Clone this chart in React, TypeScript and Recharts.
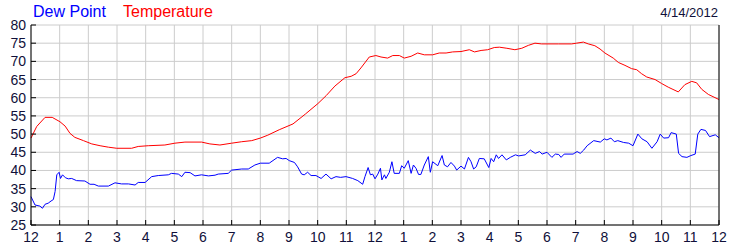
import { CartesianGrid, Line, LineChart, XAxis, YAxis } from "recharts";

const hourTicks = [
  0, 1, 2, 3, 4, 5, 6, 7, 8, 9, 10, 11, 12, 13, 14, 15, 16, 17, 18, 19, 20, 21, 22, 23, 24,
];
const tempTicks = [25, 30, 35, 40, 45, 50, 55, 60, 65, 70, 75, 80];

const dewHours = [
  0, 0.14, 0.31, 0.4, 0.49, 0.6, 0.7, 0.78, 0.84, 0.9, 0.98, 1.03, 1.1, 1.2, 1.3, 1.42, 1.59, 1.88,
  2.06, 2.2, 2.35, 2.7, 2.93, 3.16, 3.4, 3.63, 3.74, 3.98, 4.21, 4.44, 4.79, 4.9, 5.14, 5.26, 5.37,
  5.55, 5.72, 5.95, 6.19, 6.42, 6.53, 6.88, 7, 7.35, 7.58, 7.81, 8, 8.31, 8.6, 8.78, 8.9, 9.01, 9.19,
  9.3, 9.44, 9.53, 9.65, 9.77, 9.94, 10.12, 10.29, 10.47, 10.64, 10.8, 10.99, 11.22, 11.4, 11.57,
  11.65, 11.76, 11.84, 11.92, 12, 12.1, 12.19, 12.24, 12.33, 12.38, 12.5, 12.59, 12.67, 12.85, 12.93,
  13.02, 13.16, 13.26, 13.34, 13.43, 13.52, 13.6, 13.72, 13.86, 13.93, 14.01, 14.19, 14.34, 14.42,
  14.53, 14.65, 14.77, 14.85, 15, 15.12, 15.26, 15.35, 15.44, 15.53, 15.64, 15.81, 15.97, 16.05,
  16.14, 16.23, 16.31, 16.43, 16.58, 16.72, 16.9, 17.01, 17.24, 17.42, 17.59, 17.74, 17.83, 18,
  18.17, 18.29, 18.41, 18.49, 18.6, 18.91, 19.05, 19.16, 19.28, 19.4, 19.63, 19.86, 20, 20.09, 20.23,
  20.35, 20.47, 20.67, 20.85, 21, 21.17, 21.31, 21.49, 21.66, 21.84, 21.95, 22.07, 22.24, 22.33,
  22.51, 22.59, 22.71, 22.88, 23.02, 23.17, 23.26, 23.37, 23.53, 23.67, 23.87, 24,
];
const dewValues = [
  32.8, 30.5, 30.2, 29.6, 30.7, 31, 31.6, 32, 34.2, 38.8, 39.5, 37.8, 38.8, 38, 37.7, 37.8, 37.2, 37.1,
  36.2, 36.2, 35.7, 35.7, 36.6, 36.3, 36.3, 36, 36.7, 36.7, 38.3, 38.6, 38.8, 39.2, 39, 38.3, 39.5,
  39.4, 38.5, 38.8, 38.5, 38.7, 39, 39.2, 40.1, 40.4, 40.4, 41.5, 42, 42, 43.6, 43.2, 43.3, 42.7, 42.2,
  41, 39, 38.8, 39.5, 38.6, 38.6, 37.8, 39, 37.7, 38.3, 38.1, 38.3, 37.8, 37.2, 36.2,
  38.3, 40.8, 38.8, 39, 37.7, 39, 40.6, 37.4, 38.8, 37.8, 39.5, 42.4, 39.2, 39.2, 41.3,
  40.6, 42.7, 39.2, 41.5, 40.6, 38.9, 38.9, 41.5, 43.8, 39.5, 42.4, 41.3, 44.1, 41.5,
  41, 42.2, 41.2, 40.1, 41.2, 40.4, 43.6, 42.4, 40.4, 41, 43.3, 43.2, 40.8, 43.3,
  42.4, 44.3, 43.3, 44.3, 42.9, 43.6, 44.3, 44, 44.3, 45.6, 44.7, 45.2, 44.5, 45,
  43.6, 44.5, 44.4, 43.6, 44.5, 44.5, 45.2, 44.7, 45.6, 46.8, 48.2, 47.8, 48.7, 48.4, 48.9,
  47.9, 48.2, 47.7, 47.5, 46.8, 50, 48.7, 47.9, 46.1, 47.9, 50, 48.9, 49, 50.4,
  50, 44.7, 43.8, 43.6, 44.1, 44.5, 50, 51.3, 51, 49.3, 49.8, 49,
];

const tempHours = [
  0, 0.2, 0.49, 0.74, 1.01, 1.19, 1.36, 1.53, 1.83, 2.12, 2.41, 2.7, 2.99, 3.51, 3.74, 4.09, 4.67,
  5.02, 5.37, 5.95, 6.24, 6.59, 7, 7.35, 7.7, 8, 8.26, 8.66, 9.14, 9.57, 10.01, 10.3, 10.6, 10.95,
  11.17, 11.34, 11.51, 11.8, 12.03, 12.21, 12.44, 12.62, 12.85, 13.02, 13.26, 13.49, 13.72, 14.01,
  14.24, 14.48, 14.71, 15, 15.29, 15.47, 15.7, 15.93, 16.16, 16.34, 16.6, 16.88, 17.12, 17.35, 17.58,
  17.81, 18.4, 18.86, 19.03, 19.27, 19.44, 19.67, 19.85, 20.02, 20.31, 20.49, 20.72, 20.95, 21.13,
  21.3, 21.48, 21.77, 22, 22.23, 22.58, 22.81, 23.05, 23.22, 23.4, 23.63, 24,
];
const tempValues = [
  48.9, 52.1, 54.6, 54.6, 53.4, 52.2, 50.2, 49.1, 48.2, 47.3, 46.8, 46.4, 46.1, 46.1, 46.6, 46.8, 47,
  47.5, 47.8, 47.8, 47.3, 47, 47.5, 47.9, 48.2, 48.9, 49.7, 51.2, 52.8, 55.5, 58.4, 60.6, 63.2, 65.5,
  65.9, 66.6, 68.2, 71.2, 71.6, 71.2, 70.9, 71.6, 71.6, 70.9, 71.4, 72.3, 71.8, 71.8,
  72.3, 72.3, 72.6, 72.7, 73.2, 72.6, 73, 73.2, 73.8, 73.9, 73.6, 73.2, 73.6, 74.4, 75,
  74.8, 74.8, 74.8, 75, 75.3, 74.8, 74.3, 73.4, 72.3, 70.9, 69.7, 68.9, 68, 67.7,
  66.6, 65.7, 65, 63.9, 62.9, 61.6, 63.6, 64.5, 64.1, 62.3, 60.9, 59.5,
];

const dewData = dewHours.map((h, i) => ({ h, v: dewValues[i] }));
const tempData = tempHours.map((h, i) => ({ h, v: tempValues[i] }));

const FONT = "'Liberation Sans', Arial, sans-serif";
const LABEL = "#10103a";

const hourLabel = (h: number) => String(h % 12 === 0 ? 12 : h % 12);

const BottomTick = (props: any) => {
  const { x, y, payload } = props;
  return (
    <g>
      <line x1={x} y1={y} x2={x} y2={y - 5} stroke="#000" />
      <text x={x} y={y + 17} textAnchor="middle" fontSize={14} fill={LABEL} fontFamily={FONT}>
        {hourLabel(payload.value)}
      </text>
    </g>
  );
};

const TopTick = (props: any) => {
  const { x, y } = props;
  return <line x1={x} y1={y} x2={x} y2={y + 5} stroke="#000" />;
};

const LeftTick = (props: any) => {
  const { x, y, payload } = props;
  return (
    <g>
      <line x1={x} y1={y} x2={x + 5} y2={y} stroke="#000" />
      <text x={x - 5} y={y + 5} textAnchor="end" fontSize={14} fill={LABEL} fontFamily={FONT}>
        {payload.value}
      </text>
    </g>
  );
};

const RightTick = (props: any) => {
  const { x, y, payload } = props;
  return (
    <g>
      <line x1={x} y1={y} x2={x - 5} y2={y} stroke="#000" />
      <text x={x + 8} y={y + 5} textAnchor="start" fontSize={14} fill={LABEL} fontFamily={FONT}>
        {payload.value}
      </text>
    </g>
  );
};

export default function App() {
  return (
    <div style={{ position: "absolute", left: 0, top: 0, width: 750, height: 250, background: "#fff" }}>
      <LineChart width={750} height={250} margin={{ top: 25, right: 0, bottom: 0, left: 0 }}>
        <CartesianGrid stroke="#cccccc" />
        <XAxis
          dataKey="h"
          type="number"
          domain={[0, 24]}
          ticks={hourTicks}
          interval={0}
          height={25}
          tickSize={0}
          tickMargin={0}
          tick={<BottomTick />}
          axisLine={{ stroke: "#000" }}
        />
        <XAxis
          xAxisId="top"
          orientation="top"
          dataKey="h"
          type="number"
          domain={[0, 24]}
          ticks={hourTicks}
          interval={0}
          height={0}
          tickSize={0}
          tickMargin={0}
          tick={<TopTick />}
          axisLine={{ stroke: "#000" }}
        />
        <YAxis
          type="number"
          domain={[25, 80]}
          ticks={tempTicks}
          interval={0}
          width={31}
          tickSize={0}
          tickMargin={0}
          tick={<LeftTick />}
          axisLine={{ stroke: "#000" }}
        />
        <YAxis
          yAxisId="right"
          orientation="right"
          type="number"
          domain={[25, 80]}
          ticks={tempTicks}
          interval={0}
          width={31}
          tickSize={0}
          tickMargin={0}
          tick={<RightTick />}
          axisLine={{ stroke: "#000" }}
        />
        <Line
          data={tempData}
          dataKey="v"
          name="Temperature"
          stroke="#ff0000"
          strokeWidth={1}
          dot={false}
          type="linear"
          isAnimationActive={false}
        />
        <Line
          data={dewData}
          dataKey="v"
          name="Dew Point"
          stroke="#0000ff"
          strokeWidth={1}
          dot={false}
          type="linear"
          isAnimationActive={false}
        />
      </LineChart>
      <svg
        width={750}
        height={250}
        style={{ position: "absolute", left: 0, top: 0, pointerEvents: "none" }}
      >
        <text x={33} y={17} fontSize={16} fill="#0000ff" fontFamily={FONT}>
          Dew Point
        </text>
        <text x={123} y={17} fontSize={16} fill="#ff0000" fontFamily={FONT}>
          Temperature
        </text>
        <text x={718} y={17} fontSize={13} fill={LABEL} textAnchor="end" fontFamily={FONT}>
          4/14/2012
        </text>
      </svg>
    </div>
  );
}
